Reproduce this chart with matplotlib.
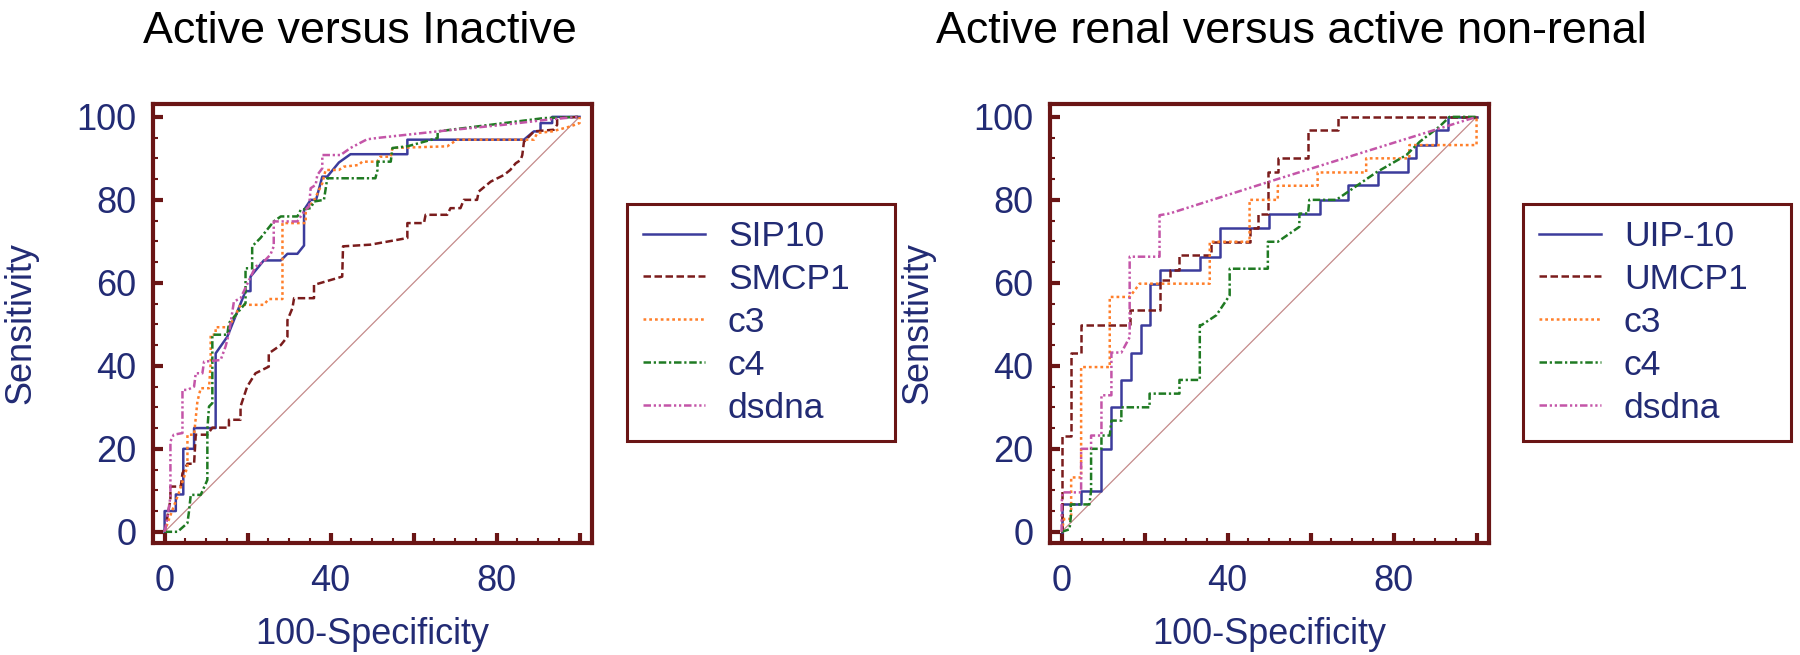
import matplotlib
matplotlib.use("Agg")
import matplotlib.pyplot as plt
from matplotlib.ticker import MultipleLocator, FixedFormatter, FixedLocator

plt.rcParams['font.family'] = ['Liberation Sans', 'DejaVu Sans']

# ---- left panel: active versus inactive ----
sip10_x = [0, 0, 2.7, 2.7, 4.5, 4.5, 7.1, 7.1, 12.3, 12.3, 15.1, 15.9, 19.5, 20.7, 20.7, 23.9, 28, 29.6, 32, 33.6,
           33.6, 35.2, 36.5, 38, 39.2, 42, 44.8, 58.5, 58.5, 86.6, 89, 90.6, 90.6, 93.4, 93.4, 100]
sip10_y = [0, 5, 5, 9, 9, 20, 20, 25, 25, 43, 47, 49, 58, 58, 61.5, 65.4, 65.4, 67, 67, 69,
           77.6, 80, 80, 85.6, 85.6, 89, 91, 91, 94.5, 94.5, 96.5, 96.5, 98.5, 98.5, 100, 100]

smcp1_x = [0, 1.4, 1.4, 3.9, 4.3, 5.5, 7.1, 7.5, 10.3, 11.5, 15.5, 15.5, 18.3, 18.3, 19.9, 21.9, 25.1, 25.1, 28, 29.6,
           29.6, 30.8, 31.2, 36, 36, 42.8, 43, 49.6, 58.5, 58.5, 62.5, 62.9, 68.1, 68.9, 71.3, 72.1, 75.3, 75.7, 78.6, 81.8,
           83.3, 84.6, 85.8, 86.2, 86.6, 89, 93.8, 94.6, 94.6, 100]
smcp1_y = [0, 7.7, 10.9, 10.9, 14.1, 16.4, 16.4, 23.4, 23.4, 25.1, 25.1, 27, 27, 30.2, 35, 38.2, 39.8, 43, 45, 47,
           51, 53.9, 56.3, 56.3, 59.5, 61.5, 68.8, 69.2, 70.8, 74.4, 74.4, 76.4, 76.4, 78, 78, 80, 80, 82, 84.4, 86,
           87.2, 88.8, 89.6, 90.8, 94, 96.5, 96.9, 98.1, 99.7, 100]

c3_x = [0, 1, 2.2, 3.4, 5.5, 5.5, 7.1, 7.9, 8.7, 10.7, 11.1, 11.1, 12.3, 12.3, 15.5, 17.5, 18.3, 23.9, 25.1, 28.4,
        28.4, 34, 34, 36, 38, 38.8, 42, 43.2, 46.8, 47.6, 51.2, 52, 54.5, 54.9, 68.1, 70.5, 89, 89.8, 93.4, 97.8,
        100, 100]
c3_y = [0, 2.9, 6.1, 9.3, 15.7, 23.4, 23.4, 31.4, 34.6, 34.6, 40.6, 47.5, 47.5, 49.3, 49.3, 53.1, 54.7, 54.7, 56.1, 56.1,
        74.4, 74.4, 77.6, 79.8, 84, 87.2, 87.2, 88, 88.4, 89.2, 89.2, 90.4, 90.4, 92.5, 92.9, 94.5, 94.5, 96.1, 96.5, 97.7,
        98.5, 100]

c4_x = [0, 3.1, 5.5, 5.9, 6.3, 8.7, 10.3, 10.3, 10.7, 11.5, 11.5, 12.7, 15.1, 15.5, 19.5, 19.5, 21.1, 21.1, 23.1, 26.3,
        28, 32, 32.8, 35.2, 36, 38.4, 39.2, 50.8, 51.3, 51.3, 54.5, 54.9, 58.5, 65.8, 65.8, 91.4, 100]
c4_y = [0, 0, 2.1, 5.1, 8.9, 8.9, 12.5, 24.6, 30.2, 31, 47.5, 47.5, 47.5, 50.3, 55.1, 63.5, 63.5, 68.8, 70.8, 74.8,
        76, 76, 77.6, 78, 79.6, 80, 85.2, 85.2, 87.2, 89.2, 89.2, 92.5, 92.9, 94.9, 96.5, 99.7, 100]

ds_x = [0, 0.6, 1.4, 1.4, 2.2, 4.3, 4.3, 5.5, 7.1, 7.5, 9.1, 9.5, 13.5, 14.7, 15.5, 16.7, 18.3, 21.9, 23.9, 25.5,
        26.3, 26.3, 32, 33.6, 34.8, 35.2, 36.4, 36.8, 38, 38, 42.4, 44.8, 48.8, 52, 65.8, 81.8, 93.8, 100]
ds_y = [0, 2.9, 8.5, 21.8, 23.4, 23.8, 34.2, 34.2, 35, 38.2, 38.2, 41, 41.4, 44.7, 47.8, 55.5, 56.3, 63.9, 65.1, 66.8,
        68.8, 74.8, 74.8, 77.2, 78.4, 82.8, 83.6, 86, 87.6, 90.8, 90.8, 92.5, 94.6, 95, 96.5, 98.1, 99.5, 100]

# ---- right panel: active renal versus active non-renal ----
uip_x = [0, 0, 4.7, 4.7, 9.6, 9.6, 12, 12, 14.4, 14.4, 16.8, 16.8, 19.2, 19.2, 21.2, 21.2, 23.6, 23.6, 33.3, 33.3,
         38.1, 38.1, 50, 50, 62.2, 62.2, 69, 69, 76.2, 76.2, 83.5, 83.5, 85.5, 85.5, 90.3, 90.3, 93.1, 93.1, 100]
uip_y = [0, 6.8, 6.8, 9.9, 9.9, 20, 20, 30, 30, 36.6, 36.6, 43.2, 43.2, 49.8, 49.8, 59.8, 59.8, 63, 63, 66.3,
         66.3, 73.3, 73.3, 76.7, 76.7, 80, 80, 83.6, 83.6, 86.6, 86.6, 90, 90, 93.2, 93.2, 96.9, 96.9, 100, 100]

umcp_x = [0, 0, 2.3, 2.3, 4.7, 4.7, 16.4, 16.4, 23.6, 23.6, 26, 26, 28.4, 28.4, 36.1, 36.1, 45.3, 45.3, 47.3, 47.3,
          49.7, 49.7, 52.1, 52.1, 59.4, 59.4, 66.6, 66.6, 100]
umcp_y = [0, 23.2, 23.2, 43.2, 43.2, 49.9, 49.9, 53.4, 53.4, 60.6, 60.6, 63, 63, 66.7, 66.7, 69.9, 69.9, 73.3, 73.3, 76.7,
          76.7, 86.6, 86.6, 90, 90, 96.9, 96.9, 100, 100]

rc3_x = [0, 0.6, 2.3, 2.3, 4.7, 4.7, 11.6, 11.6, 16.4, 18.8, 35.7, 35.7, 45.3, 45.3, 52.1, 52.1, 61.7, 61.7, 73.4, 73.4,
         83.8, 83.8, 100, 100]
rc3_y = [0, 3.1, 3.1, 13.1, 13.1, 39.7, 39.7, 56.6, 56.6, 59.8, 59.8, 69.9, 69.9, 80, 80, 83.4, 83.4, 86.6, 86.6, 90,
         90, 93.2, 93.2, 100]

rc4_x = [0, 1.9, 2.2, 2.2, 6.7, 7.1, 7.1, 9.6, 9.6, 11.6, 12, 14.4, 14.4, 21.2, 21.2, 28.4, 28.4, 33.3, 33.3, 33.7,
         37.3, 40.5, 40.5, 49.7, 49.7, 52.1, 57.3, 57.3, 59.4, 59.7, 66.2, 75.8, 83.1, 86.3, 91.1, 93.5, 100]
rc4_y = [0, 0.6, 3.4, 6.6, 6.6, 9.9, 20, 20, 23.2, 23.2, 26.8, 26.8, 30, 30, 33.3, 33.3, 36.6, 36.6, 49.8, 49.8,
         52.2, 57, 63.4, 63.4, 69.9, 69.9, 73.5, 76.7, 76.7, 80, 80, 86.6, 90.8, 94, 97.7, 100, 100]

rds_x = [0, 0, 0.2, 4.7, 4.7, 7.1, 7.1, 9.6, 9.6, 12, 12, 14.4, 16.4, 16.4, 23.6, 23.6, 26, 50.1, 100]
rds_y = [0, 6.6, 9.5, 9.5, 20, 20, 23.2, 23.2, 32.9, 32.9, 43.2, 43.2, 46.9, 66.3, 66.3, 76.3, 76.7, 84.4, 100]

diag = [0, 100]

left_labels = ['SIP10', 'SMCP1', 'c3', 'c4', 'dsdna']
right_labels = ['UIP-10', 'UMCP1', 'c3', 'c4', 'dsdna']

txt = '#222b74'
frame = '#6a1515'
styles = [
    dict(color='#3c3c9c', linestyle='-'),
    dict(color='#7a1c1c', linestyle=(0, (3.0, 1.4))),
    dict(color='#ff7f2a', linestyle=(0, (1.1, 1.2))),
    dict(color='#1f7a22', linestyle=(0, (3.0, 1.1, 0.9, 1.1))),
    dict(color='#c455a8', linestyle=(0, (3.0, 1.1, 0.9, 1.1, 0.9, 1.1))),
]

fig = plt.figure(figsize=(18, 6.55), dpi=100)
ax1 = fig.add_axes([153 / 1800, 1 - 543 / 655, 439 / 1800, 439 / 655])
ax2 = fig.add_axes([1050 / 1800, 1 - 543 / 655, 439 / 1800, 439 / 655])


def draw(ax, curves, labels, leg_x):
    ax.plot(diag, diag, color='#c48a8a', lw=0.9, zorder=1)
    lines = []
    for (x, y), lab, st in zip(curves, labels, styles):
        ln, = ax.plot(x, y, lw=1.8, label=lab, zorder=2, **st)
        lines.append(ln)
    ax.set_xlim(-2.8, 103)
    ax.set_ylim(-2.7, 103.1)
    for s in ax.spines.values():
        s.set_color(frame)
        s.set_linewidth(3)
    ax.xaxis.set_major_locator(FixedLocator([0, 20, 40, 60, 80, 100]))
    ax.xaxis.set_major_formatter(FixedFormatter(['0', '', '40', '', '80', '']))
    ax.yaxis.set_major_locator(MultipleLocator(20))
    ax.xaxis.set_minor_locator(MultipleLocator(5))
    ax.yaxis.set_minor_locator(MultipleLocator(5))
    ax.tick_params(which='both', direction='in', top=False, right=False, color=frame, labelcolor=txt, labelsize=26)
    ax.tick_params(which='major', length=7, width=3)
    ax.tick_params(which='minor', length=3.5, width=1.5)
    ax.tick_params(axis='x', which='major', pad=15)
    ax.tick_params(axis='y', which='major', pad=12)
    ax.set_xlabel('100-Specificity', fontsize=26, color=txt)
    ax.set_ylabel('Sensitivity', fontsize=26, color=txt)
    ax.xaxis.set_label_coords(0.5, -0.168)
    ax.yaxis.set_label_coords(-0.262, 0.5)
    leg = ax.legend(handles=lines, loc='upper left',
                    bbox_to_anchor=(leg_x / 1800, 1 - 204 / 655, 268 / 1800, 0),
                    bbox_transform=fig.transFigure, mode='expand', fontsize=25.5,
                    labelcolor=txt, handlelength=1.75, handletextpad=0.65,
                    labelspacing=0.28, borderpad=0.45, borderaxespad=0,
                    fancybox=False, framealpha=1)
    leg.get_frame().set_edgecolor(frame)
    leg.get_frame().set_linewidth(2.2)


draw(ax1, [(sip10_x, sip10_y), (smcp1_x, smcp1_y), (c3_x, c3_y), (c4_x, c4_y), (ds_x, ds_y)], left_labels, 627)
draw(ax2, [(uip_x, uip_y), (umcp_x, umcp_y), (rc3_x, rc3_y), (rc4_x, rc4_y), (rds_x, rds_y)], right_labels, 1523)

fig.text(143 / 1800, 1 - 43 / 655, 'Active versus Inactive', fontsize=32.3, color='black', va='baseline', ha='left')
fig.text(936 / 1800, 1 - 43 / 655, 'Active renal versus active non-renal', fontsize=32.3, color='black',
         va='baseline', ha='left')

fig.savefig('out.png', dpi=100)
